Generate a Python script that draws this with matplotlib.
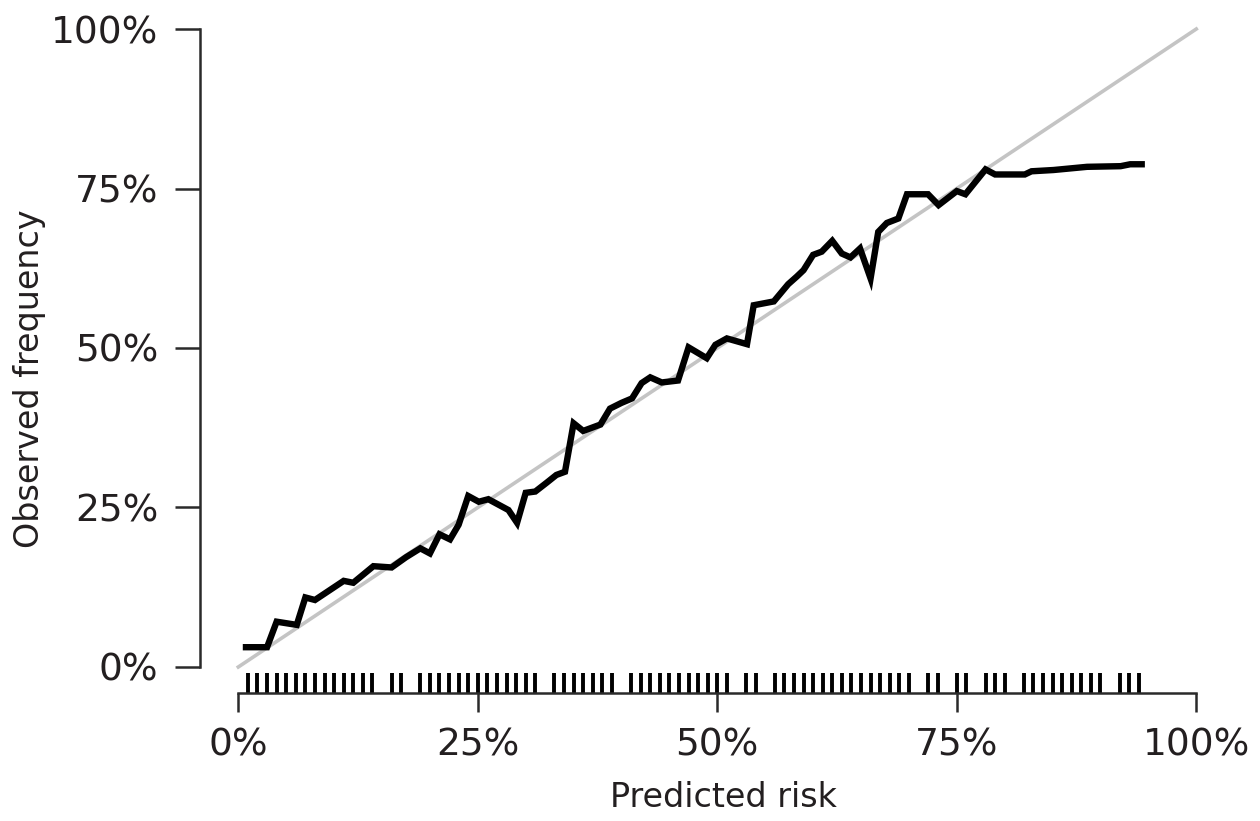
import matplotlib
matplotlib.use("Agg")
import matplotlib.pyplot as plt
import numpy as np

# calibration curve (predicted %, observed %)
pred = [0.8, 3.0, 4.0, 6.1, 7.0, 8.0, 9.5, 11.0, 12.0, 14.1, 16.0, 17.5, 19.0, 20.0,
        21.0, 22.1, 23.0, 24.0, 25.1, 26.1, 28.2, 29.1, 30.0, 31.0, 32.2, 33.2, 34.1,
        35.0, 36.0, 37.8, 38.8, 40.0, 41.1, 42.1, 43.0, 44.2, 45.9, 47.0, 48.9, 49.8,
        51.0, 53.1, 53.8, 55.9, 57.4, 58.3, 59.0, 60.0, 60.9, 62.0, 63.0, 63.9, 64.9,
        66.0, 66.8, 67.7, 68.9, 69.8, 72.0, 73.1, 75.0, 75.9, 78.0, 79.0, 82.1, 82.8,
        85.1, 88.6, 92.1, 93.1, 94.3]
obs = [3.1, 3.1, 7.1, 6.6, 10.9, 10.5, 12.0, 13.5, 13.2, 15.8, 15.6, 17.2, 18.6, 17.8,
       20.8, 20.0, 22.3, 26.8, 25.9, 26.3, 24.6, 22.6, 27.3, 27.5, 28.9, 30.1, 30.6,
       38.2, 37.0, 38.0, 40.5, 41.4, 42.1, 44.5, 45.4, 44.6, 44.9, 50.1, 48.4, 50.5,
       51.5, 50.6, 56.7, 57.3, 60.0, 61.2, 62.2, 64.6, 65.1, 66.8, 64.8, 64.2, 65.6,
       60.9, 68.2, 69.6, 70.3, 74.1, 74.1, 72.4, 74.6, 74.1, 78.0, 77.2, 77.2, 77.7,
       77.9, 78.4, 78.5, 78.8, 78.8]

# rug of predicted risks (%)
rug = (list(range(1, 15)) + [16, 17] + list(range(19, 32)) + list(range(33, 40))
       + list(range(41, 52)) + [53, 54] + list(range(56, 71)) + [72, 73, 75, 76]
       + [78, 79, 80] + list(range(82, 91)) + [92, 93, 94])

ticks = [0, 0.25, 0.5, 0.75, 1.0]
tick_labels = ["0%", "25%", "50%", "75%", "100%"]

txt = "#231f20"
W, H = 1260, 821
fig = plt.figure(figsize=(W / 100, H / 100), dpi=100)
ax = fig.add_axes([200 / W, (H - 692.5) / H, 1034.6 / W, 689 / H])

ax.plot([0, 1], [0, 1], color="#c4c4c4", lw=2.6, zorder=1)
ax.plot(np.array(pred) / 100, np.array(obs) / 100, color="black", lw=4.6,
        solid_joinstyle="miter", zorder=3)
ax.vlines(np.array(rug) / 100, 0, 20 / 689, transform=ax.get_xaxis_transform(),
          color="black", lw=2.8)

ax.set_xlim(-0.04, 1.04)
ax.set_ylim(-0.04, 1.04)
for s in ["top", "right"]:
    ax.spines[s].set_visible(False)
for s in ["left", "bottom"]:
    ax.spines[s].set_bounds(0, 1)
    ax.spines[s].set_linewidth(1.8)
    ax.spines[s].set_color("#2a2a2a")

ax.set_xticks(ticks)
ax.set_xticklabels(tick_labels)
ax.set_yticks(ticks)
ax.set_yticklabels(tick_labels)
ax.tick_params(axis="x", length=14, width=1.8, color="#2a2a2a", pad=11,
               labelsize=27, labelcolor=txt)
ax.tick_params(axis="y", length=18, width=1.8, color="#2a2a2a", pad=12,
               labelsize=27, labelcolor=txt)

fig.text(30 / W, (H - 379) / H, "Observed frequency", rotation=90, ha="center",
         va="center", fontsize=24, color=txt)
fig.text(723 / W, (H - 797) / H, "Predicted risk", ha="center", va="center",
         fontsize=24, color=txt)

fig.savefig("out.png", dpi=100)
